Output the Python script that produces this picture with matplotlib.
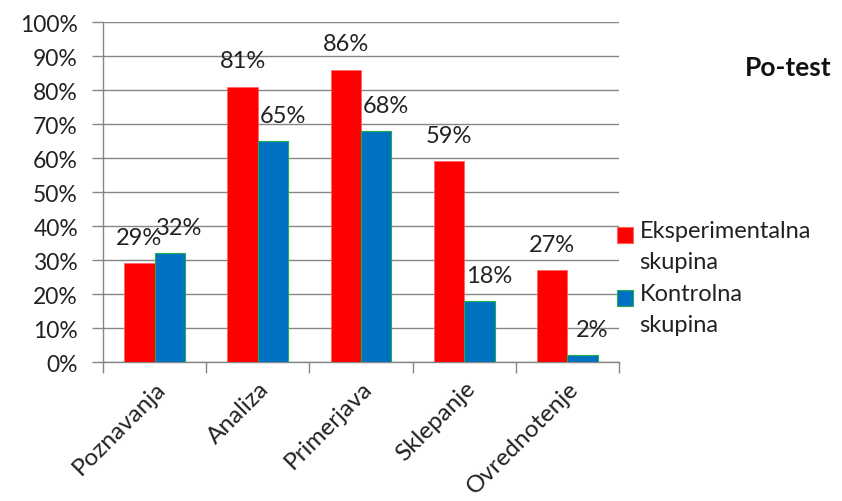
import matplotlib
matplotlib.use("Agg")
import matplotlib.pyplot as plt
import numpy as np
from matplotlib.patches import Patch, Rectangle
from matplotlib.legend_handler import HandlerBase

categories = ["Poznavanja", "Analiza", "Primerjava", "Sklepanje", "Ovrednotenje"]
exp_values = [29, 81, 86, 59, 27]
ctrl_values = [32, 65, 68, 18, 2]
series_names = ["Eksperimentalna\nskupina", "Kontrolna\nskupina"]
title = "Po-test"

plt.rcParams['font.family'] = ['Lato', 'DejaVu Sans']
grid_c = '#868686'
txt_c = '#222222'

fig = plt.figure(figsize=(8.42, 5.02), dpi=100)
ax = fig.add_axes([103/842, 1-363/502, 516/842, 340/502])

x = np.arange(len(categories))
w = 0.295
b1 = ax.bar(x - w/2, exp_values, w, color='#FF0000', edgecolor='#FF6060', linewidth=0.5, zorder=3)
b2 = ax.bar(x + w/2, ctrl_values, w, color='#0070C0', edgecolor='#20B050', linewidth=0.8, zorder=3)

LFS = 17
for rect, v in zip(b1, exp_values):
    ax.annotate(f"{v}%", (rect.get_x() + rect.get_width()/2, v), xytext=(0, 11),
                textcoords='offset points', ha='center', va='bottom', fontsize=LFS, color=txt_c)
for rect, v in zip(b2, ctrl_values):
    ax.annotate(f"{v}%", (rect.get_x() + rect.get_width()/2, v), xytext=(7, 11),
                textcoords='offset points', ha='center', va='bottom', fontsize=LFS, color=txt_c)

ax.set_xlim(-0.5, len(categories) - 0.5)
ax.set_ylim(0, 100)
ax.set_yticks(np.arange(0, 101, 10))
ax.set_yticklabels([f"{t}%" for t in range(0, 101, 10)], fontsize=16.5, color=txt_c)
ax.yaxis.grid(True, color=grid_c, linewidth=1, zorder=0)
ax.set_axisbelow(True)

ax.set_xticks(np.arange(-0.5, len(categories)), minor=False)
ax.set_xticklabels([])
ax.set_xticks(x, minor=True)
ax.set_xticklabels(categories, minor=True, rotation=45, ha='right', rotation_mode='anchor',
                   fontsize=17.5, color=txt_c)
ax.tick_params(axis='x', which='minor', length=0, pad=11)
ax.tick_params(axis='x', which='major', length=8, color=grid_c, width=1)
ax.tick_params(axis='y', length=8, color=grid_c, width=1, pad=10)

for s in ['top', 'right']:
    ax.spines[s].set_visible(False)
for s in ['left', 'bottom']:
    ax.spines[s].set_color(grid_c)
    ax.spines[s].set_linewidth(1)


class TopSquare(HandlerBase):
    def create_artists(self, legend, orig_handle, xdescent, ydescent, width, height, fontsize, trans):
        s = 16 * 72 / 100.0
        p = Rectangle((-xdescent, -ydescent + height - s), s, s,
                      facecolor=orig_handle.get_facecolor(), edgecolor=orig_handle.get_edgecolor(),
                      linewidth=0.8, transform=trans)
        return [p]


handles = [Patch(facecolor='#FF0000', edgecolor='#FF6060'),
           Patch(facecolor='#0070C0', edgecolor='#20B050')]
leg = fig.legend(handles, series_names, loc='upper left', bbox_to_anchor=(617/842, 1-221/502),
                 frameon=False, fontsize=17, handlelength=0.7, handleheight=2.2,
                 handletextpad=0.25, labelspacing=0.45, borderaxespad=0, borderpad=0,
                 handler_map={Patch: TopSquare()})
for t in leg.get_texts():
    t.set_color(txt_c)
    t.set_linespacing(1.6)

fig.text(788/842, 1-68/502, title, fontsize=19, fontweight='bold', ha='center', va='center', color='#111111')

fig.savefig("out.png", dpi=100)
